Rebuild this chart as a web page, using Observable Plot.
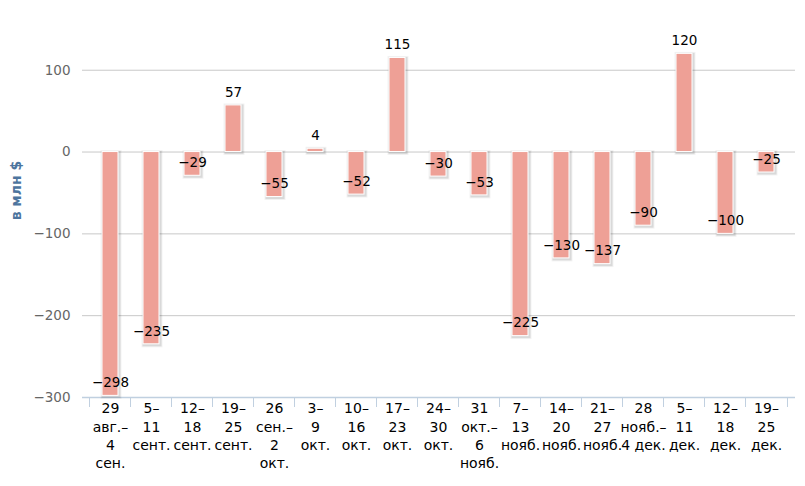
<!DOCTYPE html>
<html>
<head>
<meta charset="utf-8">
<script src="https://cdn.jsdelivr.net/npm/d3@7"></script>
<script src="https://cdn.jsdelivr.net/npm/@observablehq/plot@0.6"></script>
<style>
  html, body { margin: 0; padding: 0; background: #fff; }
  #chart svg { display: block; }
</style>
</head>
<body>
<div id="chart"></div>
<script>
const categories = [
  "29\nавг.–\n4\nсен.",
  "5–\n11\nсент.",
  "12–\n18\nсент.",
  "19–\n25\nсент.",
  "26\nсен.–\n2\nокт.",
  "3–\n9\nокт.",
  "10–\n16\nокт.",
  "17–\n23\nокт.",
  "24–\n30\nокт.",
  "31\nокт.–\n6\nнояб.",
  "7–\n13\nнояб.",
  "14–\n20\nнояб.",
  "21–\n27\nнояб.",
  "28\nнояб.–\n4 дек.",
  "5–\n11\nдек.",
  "12–\n18\nдек.",
  "19–\n25\nдек."
];
const values = [-298, -235, -29, 57, -55, 4, -52, 115, -30, -53, -225, -130, -137, -90, 120, -100, -25];
const yTicks = [-300, -200, -100, 0, 100];
const yTitle = "в млн $";

const data = categories.map((c, i) => ({cat: c, value: values[i]}));
const fmt = d3.format("d");
const font = "DejaVu Sans, Verdana, sans-serif";

const W = 805, H = 486;
const mL = 82, mR = 10;
const step = (W - mL - mR) / categories.length;

const chart = Plot.plot({
  width: W,
  height: H,
  marginLeft: mL,
  marginRight: mR,
  marginTop: 37,
  marginBottom: 89,
  style: {fontFamily: font, background: "#fff"},
  x: {domain: categories, paddingInner: 0.6, paddingOuter: 0.3},
  y: {domain: [-300, 140]},
  marks: [
    Plot.gridY(yTicks.filter(d => d !== -300), {stroke: "#c8c8c8", strokeOpacity: 1}),
    Plot.ruleY([-300], {stroke: "#c0d0e0", strokeWidth: 1.5}),
    Plot.ruleX(categories, {x: d => d, y1: -300, y2: -300, insetBottom: -10, dx: -step / 2, stroke: "#c0d0e0"}),
    Plot.ruleX(categories.slice(-1), {x: d => d, y1: -300, y2: -300, insetBottom: -10, dx: step / 2, stroke: "#c0d0e0"}),
    Plot.axisY(yTicks, {tickSize: 0, tickPadding: 12, fontSize: 13.5, fill: "#666", label: null, tickFormat: d => fmt(d)}),
    Plot.axisX({tickSize: 0, tickPadding: 3, fontSize: 14, fill: "#000", lineHeight: 1.3, label: null, tickFormat: d => d}),
    Plot.text([yTitle], {frameAnchor: "left", textAnchor: "middle", rotate: -90, dx: -66, dy: -27, fontWeight: "bold", fontSize: 14, letterSpacing: 1, fill: "#4d759e"}),
    // shadows
    Plot.barY(data, {x: "cat", y: "value", fill: "none", stroke: "#000", strokeOpacity: 0.05, strokeWidth: 5, dx: 1, dy: 1}),
    Plot.barY(data, {x: "cat", y: "value", fill: "none", stroke: "#000", strokeOpacity: 0.1, strokeWidth: 3, dx: 1, dy: 1}),
    Plot.barY(data, {x: "cat", y: "value", fill: "#eea096", stroke: "#fff", strokeWidth: 1}),
    Plot.ruleY([0], {x1: categories[0], x2: categories[categories.length - 1], stroke: "#000", strokeOpacity: 0.12, strokeWidth: 2, dy: 2, insetRight: -step * 0.5 + 2}),
    Plot.ruleY([0], {x1: categories[0], x2: categories[categories.length - 1], stroke: "#606060", strokeWidth: 2, insetRight: -step * 0.5 + 2}),
    Plot.text(data, {x: "cat", y: "value", text: d => fmt(d.value), dy: -13, fontSize: 13.5, fill: "#000"})
  ]
});
document.getElementById("chart").appendChild(chart);
</script>
</body>
</html>
